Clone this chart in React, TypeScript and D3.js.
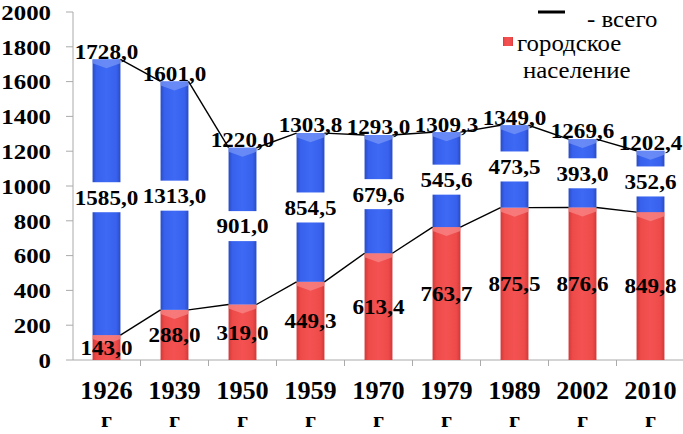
import React from "react";
import * as d3 from "d3";

const years = ["1926", "1939", "1950", "1959", "1970", "1979", "1989", "2002", "2010"];
const total = [1728.0, 1601.0, 1220.0, 1303.8, 1293.0, 1309.3, 1349.0, 1269.6, 1202.4];
const urban = [143.0, 288.0, 319.0, 449.3, 613.4, 763.7, 875.5, 876.6, 849.8];
const rural = [1585.0, 1313.0, 901.0, 854.5, 679.6, 545.6, 473.5, 393.0, 352.6];
const yTicks = [0, 200, 400, 600, 800, 1000, 1200, 1400, 1600, 1800, 2000];
const legendTotal = "- всего";
const legendUrban = ["городское", "население"];
const yearSuffix = "г";

const W = 683;
const H = 434;
const fmt = (v: number) => v.toFixed(1).replace(".", ",");
const FONT = '"Liberation Serif", "Times New Roman", Tinos, "DejaVu Serif", serif';

function T({ x, y, sx = 1.1, size, anchor = "middle", weight = "bold", children }: any) {
  return (
    <text
      transform={`translate(${x},${y}) scale(${sx},1)`}
      textAnchor={anchor}
      style={{ fontFamily: FONT, fontWeight: weight, fontSize: size }}
      dy="0.35em"
      fill="#000"
    >
      {children}
    </text>
  );
}

export default function App() {
  const x = d3.scaleBand<string>().domain(years).range([72.5, 684.5]).paddingInner(0.59).paddingOuter(0.295);
  const y = d3.scaleLinear().domain([0, 2000]).range([360, 12]);
  const bw = x.bandwidth();

  const seg = (key: string, x0: number, y0: number, y1: number, fillId: string, hi: string) => (
    <g key={key}>
      <rect x={x0} y={y0} width={bw} height={y1 - y0} fill={`url(#${fillId})`} />
      <polygon
        points={`${x0},${y0} ${x0 + bw},${y0} ${x0 + bw},${y0 + 4} ${x0 + bw / 2},${y0 + 9} ${x0},${y0 + 4}`}
        fill={hi}
        opacity={0.7}
      />
    </g>
  );

  const seriesLine = (vals: number[]) =>
    d3.range(vals.length - 1).map((i) => (
      <line
        key={i}
        x1={x(years[i])! + bw}
        y1={y(vals[i])}
        x2={x(years[i + 1])!}
        y2={y(vals[i + 1])}
        stroke="#000"
        strokeWidth={1.4}
      />
    ));

  return (
    <svg width={W} height={H} style={{ position: "absolute", left: 0, top: 0, background: "#fff" }}>
      <defs>
        <linearGradient id="gBlue" x1="0" x2="1" y1="0" y2="0">
          <stop offset="0%" stopColor="#2a4cc4" />
          <stop offset="15%" stopColor="#3862ee" />
          <stop offset="50%" stopColor="#3d69f5" />
          <stop offset="85%" stopColor="#3862ee" />
          <stop offset="100%" stopColor="#2a4cc4" />
        </linearGradient>
        <linearGradient id="gRed" x1="0" x2="1" y1="0" y2="0">
          <stop offset="0%" stopColor="#d23a3a" />
          <stop offset="15%" stopColor="#ee4a4a" />
          <stop offset="50%" stopColor="#f45252" />
          <stop offset="85%" stopColor="#ee4a4a" />
          <stop offset="100%" stopColor="#d23a3a" />
        </linearGradient>
      </defs>

      {/* axes */}
      <line x1={73} x2={73} y1={y(2000)} y2={y(0)} stroke="#aaa" strokeWidth={1} />
      {yTicks.map((t) => (
        <g key={t}>
          <line x1={66} x2={73} y1={y(t)} y2={y(t)} stroke="#aaa" />
          <T x={51} y={y(t)} size={22} sx={1.13} anchor="end">{t}</T>
        </g>
      ))}
      <line x1={73} x2={W} y1={y(0)} y2={y(0)} stroke="#aaa" />
      {years.map((yr, i) => {
        const bx = x(yr)! - (x.step() - bw) / 2 + x.step();
        return <line key={i} x1={bx} x2={bx} y1={y(0)} y2={y(0) + 6} stroke="#aaa" />;
      })}

      {/* bars */}
      {years.map((yr, i) => {
        const x0 = x(yr)!;
        return (
          <g key={yr}>
            {seg("u" + i, x0, y(urban[i]), y(0), "gRed", "#f98a8a")}
            {seg("r" + i, x0, y(total[i]), y(urban[i]), "gBlue", "#7a98f7")}
          </g>
        );
      })}

      {/* series lines */}
      {seriesLine(total)}
      {seriesLine(urban)}

      {/* labels */}
      {years.map((yr, i) => {
        const cx = x(yr)! + bw / 2;
        const ym = y((urban[i] + total[i]) / 2);
        return (
          <g key={"l" + yr}>
            <rect x={cx - 32} y={ym - 15} width={64} height={30} fill="#fff" />
            <T x={cx} y={ym} size={21}>{fmt(rural[i])}</T>
            <T x={cx} y={y(urban[i] / 2)} size={21}>{fmt(urban[i])}</T>
            <T x={cx} y={y(total[i]) - 8} size={21}>{fmt(total[i])}</T>
            <T x={cx} y={390} size={25} sx={1.05}>{yr}</T>
            <T x={cx} y={419.5} size={22} sx={1.1}>{yearSuffix}</T>
          </g>
        );
      })}

      {/* legend */}
      <line x1={538} x2={565} y1={12} y2={12} stroke="#000" strokeWidth={3} />
      <T x={587} y={19} size={23} anchor="start" weight="normal" sx={1.08}>{legendTotal}</T>
      <rect x={503} y={37} width={10} height={9} fill="url(#gRed)" />
      <T x={517} y={43} size={23} anchor="start" weight="normal" sx={1.08}>{legendUrban[0]}</T>
      <T x={523} y={70} size={23} anchor="start" weight="normal" sx={1.08}>{legendUrban[1]}</T>
    </svg>
  );
}
